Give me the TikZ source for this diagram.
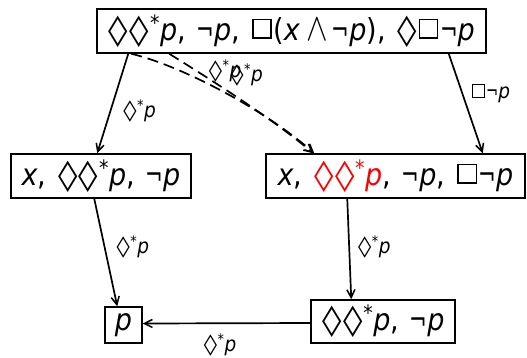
\documentclass[tikz,border=0pt]{standalone}
\usepackage{fontspec}
\usepackage{graphicx}
\setmainfont{DejaVu Sans}
\usetikzlibrary{arrows.meta}
\newcommand{\myvp}{\textit{p}}
\newcommand{\myvx}{\textit{x}}
\newcommand{\mydm}{\hspace{0.03em}\scalebox{1.45}[1]{◊}\hspace{0.03em}}
\newcommand{\myneg}{\scalebox{0.78}[1]{¬}}
\newcommand{\myand}{\scalebox{1.3}[1.4]{$\wedge$}}
\newcommand{\mybx}{\hspace{0.06em}\raisebox{0.1em}{\setlength{\fboxsep}{0pt}\setlength{\fboxrule}{0.05em}\fbox{\rule{0pt}{0.56em}\rule{0.62em}{0pt}}}\hspace{0.06em}}
\newcommand{\myds}{\mydm\textsuperscript{*}}
\newcommand{\mysep}{,\hspace{0.4em}}
\newcommand{\mytx}[1]{\scalebox{1}[1.12]{#1}}
\begin{document}
\begin{tikzpicture}[x=1pt,y=-1pt,
  state/.style={draw,line width=1.5pt,inner sep=0pt,font=\fontsize{27}{30}\selectfont},
  lbl/.style={font=\fontsize{18.5}{20}\selectfont,inner sep=0pt},
  conn/.style={-{Straight Barb[length=8pt,width=8pt,line width=1.5pt]},line width=1.7pt},
  dconn/.style={conn,dash pattern=on 11pt off 6pt}]
\useasboundingbox (0,0) rectangle (527,357);
\node[state,minimum width=389pt,minimum height=44pt] (top) at (291.5,31) {\mytx{\mydm\myds\myvp\mysep\myneg\myvp\mysep\mybx(\myvx\hspace{0.25em}\myand\hspace{0.12em}\myneg\myvp)\mysep\mydm\mybx\myneg\myvp}};
\node[state,minimum width=180pt,minimum height=44pt] (L) at (101,176) {\mytx{\myvx\mysep\mydm\myds\myvp\mysep\myneg\myvp}};
\node[state,minimum width=259pt,minimum height=44pt] (R) at (395.5,176) {\mytx{\myvx\mysep\textcolor{red}{\mydm\myds\myvp}\mysep\myneg\myvp\mysep\mybx\myneg\myvp}};
\node[state,minimum width=144pt,minimum height=43pt] (BR) at (383,321.5) {\mytx{\mydm\myds\myvp\mysep\myneg\myvp}};
\node[state,minimum width=37pt,minimum height=36pt] (P) at (123.5,325) {\mytx{\myvp}};
\draw[conn] ([xshift=32pt]top.south west) -- ([xshift=87pt]L.north west)
  node[lbl,pos=0.58,xshift=29pt] {\mytx{\myds\myvp}};
\draw[conn] ([xshift=-38pt]top.south east) -- ([xshift=-43pt]R.north east)
  node[lbl,pos=0.4,xshift=28pt] {\mytx{\mybx\myneg\myvp}};
\draw[dconn] ([xshift=35pt]top.south west) .. controls +(50,12) and +(-50,-44) .. ([xshift=49pt]R.north west)
  node[lbl,pos=0.4,xshift=22pt,yshift=10pt] {\mytx{\myds\myvp}};
\draw[dconn] ([xshift=73pt]top.south west) .. controls +(35,22) and +(-45,-38) .. ([xshift=48pt]R.north west)
  node[lbl,pos=0.3,xshift=39pt,yshift=3pt] {\mytx{\myds\myvp}};
\draw[conn] ([xshift=84pt]L.south west) -- ([xshift=13pt]P.north west)
  node[lbl,pos=0.45,xshift=28pt] {\mytx{\myds\myvp}};
\draw[conn] ([xshift=82pt]R.south west) -- ([xshift=41pt]BR.north west)
  node[lbl,pos=0.48,xshift=25pt] {\mytx{\myds\myvp}};
\draw[conn] ([yshift=-1.5pt]BR.west) -- ([yshift=1.5pt]P.east)
  node[lbl,pos=0.54,yshift=-22pt] {\mytx{\myds\myvp}};
\end{tikzpicture}
\end{document}
